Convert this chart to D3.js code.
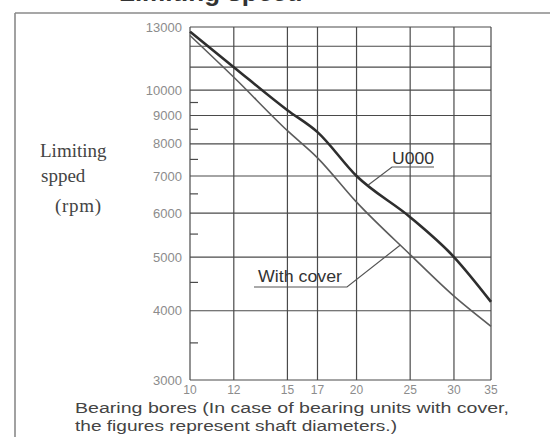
<!DOCTYPE html>
<html>
<head>
<meta charset="utf-8">
<script src="https://cdn.jsdelivr.net/npm/d3@7"></script>
<style>
  html, body { margin: 0; padding: 0; background: #ffffff; }
  svg { display: block; }
</style>
</head>
<body>
<script>
// Bearing bore sizes (mm) and limiting speeds (rpm)
const bores = [10, 12, 15, 17, 20, 25, 30, 35];
const speedU000 = [12750, 11000, 9200, 8400, 7000, 5900, 5000, 4150];
const speedWithCover = [12550, 10550, 8450, 7550, 6280, 5050, 4250, 3750];

// Axis ticks
const xTickLabels = [10, 12, 15, 17, 20, 25, 30, 35];
const yGridValues = [13000, 12000, 11000, 10000, 9000, 8000, 7000, 6000, 5000, 4000, 3000];
const yTickLabels = [13000, 10000, 9000, 8000, 7000, 6000, 5000, 4000, 3000];
const yMinorTicks = [9500, 8500, 7500, 6500, 5500, 4500, 3500];

const W = 550, H = 437;
const svg = d3.select("body").append("svg").attr("width", W).attr("height", H);

const x = d3.scaleLog().domain([10, 35]).range([190, 491]);
const y = d3.scaleLog().domain([3000, 13000]).range([380, 27]);

// Page frame
svg.append("line").attr("x1", 15).attr("x2", W).attr("y1", 13).attr("y2", 13)
  .attr("stroke", "#8a8a8a").attr("stroke-width", 1.6);
svg.append("line").attr("x1", 15).attr("x2", 15).attr("y1", 13).attr("y2", H)
  .attr("stroke", "#8a8a8a").attr("stroke-width", 1.6);

// Section heading running above the frame
svg.append("text").attr("x", 119).attr("y", 1)
  .attr("font-family", "Liberation Sans, Arial, sans-serif")
  .attr("font-weight", "bold").attr("font-size", 26).attr("fill", "#333")
  .text("Limiting speed");

const grid = svg.append("g").attr("stroke", "#4a4a4a").attr("stroke-width", 1.2);

// Horizontal grid
grid.selectAll("line.h").data(yGridValues).join("line").attr("class", "h")
  .attr("x1", x(10)).attr("x2", x(35))
  .attr("y1", d => y(d)).attr("y2", d => y(d));

// Vertical grid
grid.selectAll("line.v").data(xTickLabels).join("line").attr("class", "v")
  .attr("x1", d => x(d)).attr("x2", d => x(d))
  .attr("y1", y(13000)).attr("y2", y(3000));

// Minor ticks on the speed axis
grid.selectAll("line.m").data(yMinorTicks).join("line").attr("class", "m")
  .attr("x1", x(10)).attr("x2", x(10) + 8)
  .attr("y1", d => y(d)).attr("y2", d => y(d));

// Speed labels
svg.append("g").selectAll("text").data(yTickLabels).join("text")
  .attr("x", x(10) - 8).attr("y", d => y(d)).attr("dy", "0.35em")
  .attr("text-anchor", "end")
  .attr("font-family", "Liberation Sans, Arial, sans-serif")
  .attr("font-size", 13).attr("fill", "#8c8c8c")
  .text(d => d);

// Bore labels
svg.append("g").selectAll("text").data(xTickLabels).join("text")
  .attr("x", d => x(d)).attr("y", 394)
  .attr("text-anchor", "middle")
  .attr("font-family", "Liberation Sans, Arial, sans-serif")
  .attr("font-size", 12).attr("fill", "#8c8c8c")
  .text(d => d);

// Curves
const line = d3.line().x(d => x(d[0])).y(d => y(d[1])).curve(d3.curveMonotoneX);
const u000Pts = bores.map((b, i) => [b, speedU000[i]]);
const coverPts = bores.map((b, i) => [b, speedWithCover[i]]);

svg.append("path").datum(coverPts).attr("d", line)
  .attr("fill", "none").attr("stroke", "#5c5c5c").attr("stroke-width", 1.6);
svg.append("path").datum(u000Pts).attr("d", line)
  .attr("fill", "none").attr("stroke", "#2e2e2e").attr("stroke-width", 2.6);

// Speed on a curve at a given bore, interpolated in log-log space
function speedAt(pts, bore) {
  for (let i = 0; i < pts.length - 1; i++) {
    const [b0, s0] = pts[i], [b1, s1] = pts[i + 1];
    if (bore >= b0 && bore <= b1) {
      const t = Math.log(bore / b0) / Math.log(b1 / b0);
      return Math.exp(Math.log(s0) + t * Math.log(s1 / s0));
    }
  }
  return pts[pts.length - 1][1];
}

const labelFont = "Liberation Sans, Arial, sans-serif";

// U000 label with underline and leader
svg.append("text").attr("x", 392).attr("y", 164)
  .attr("font-family", labelFont).attr("font-size", 16.5).attr("fill", "#333")
  .attr("textLength", 42).attr("lengthAdjust", "spacingAndGlyphs")
  .text("U000");
svg.append("polyline")
  .attr("points", [[434, 167], [392, 167], [x(21), y(speedAt(u000Pts, 21))]].map(p => p.join(",")).join(" "))
  .attr("fill", "none").attr("stroke", "#555").attr("stroke-width", 1.2);

// With cover label with underline and leader
svg.append("text").attr("x", 258).attr("y", 282)
  .attr("font-family", labelFont).attr("font-size", 16.5).attr("fill", "#333")
  .attr("textLength", 84).attr("lengthAdjust", "spacingAndGlyphs")
  .text("With cover");
svg.append("polyline")
  .attr("points", [[254, 287], [347, 287], [x(24), y(speedAt(coverPts, 24))]].map(p => p.join(",")).join(" "))
  .attr("fill", "none").attr("stroke", "#555").attr("stroke-width", 1.2);

// Speed axis title
const serif = "Liberation Serif, Times New Roman, serif";
const yTitle = svg.append("g").attr("font-family", serif).attr("font-size", 19).attr("fill", "#444");
yTitle.append("text").attr("x", 40).attr("y", 157).text("Limiting");
yTitle.append("text").attr("x", 41).attr("y", 182).text("spped");
yTitle.append("text").attr("x", 55).attr("y", 212)
  .attr("textLength", 46).attr("lengthAdjust", "spacing").text("(rpm)");

// Bore axis caption
const cap = svg.append("g").attr("font-family", labelFont).attr("font-size", 15.5).attr("fill", "#444");
cap.append("text").attr("x", 75).attr("y", 413)
  .attr("textLength", 434).attr("lengthAdjust", "spacingAndGlyphs")
  .text("Bearing bores (In case of bearing units with cover,");
cap.append("text").attr("x", 75).attr("y", 431)
  .attr("textLength", 322).attr("lengthAdjust", "spacingAndGlyphs")
  .text("the figures represent shaft diameters.)");
</script>
</body>
</html>
